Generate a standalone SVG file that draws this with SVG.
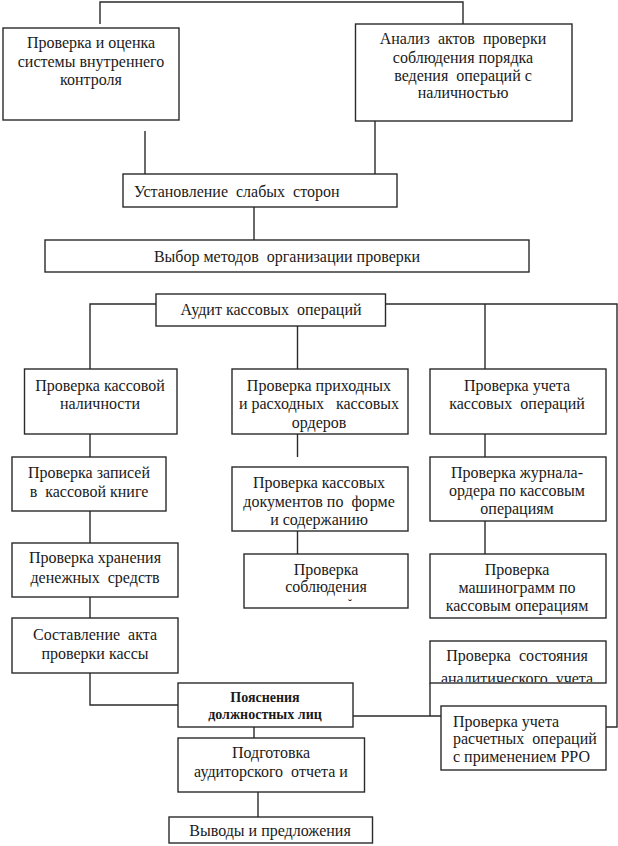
<svg xmlns="http://www.w3.org/2000/svg" width="618" height="846" viewBox="0 0 618 846">
<style>
.b{fill:#fff;stroke:#2a2a2a;stroke-width:1.4}
.c{fill:none;stroke:#2a2a2a;stroke-width:1.4}
text{font-family:"Liberation Serif","Times New Roman",serif;font-size:16px;fill:#1a1a1a;white-space:pre}
.m{text-anchor:middle}
.bd{font-weight:bold;font-size:14px}
</style>
<defs>
<clipPath id="clipJ"><rect x="430" y="641" width="176" height="41"/></clipPath>
<clipPath id="clipM"><rect x="244" y="554" width="164" height="53"/></clipPath>
</defs>
<rect width="618" height="846" fill="#fff"/>
<g id="connectors">
<polyline class="c" points="100,24 100,2 463,2 463,24"/>
<line class="c" x1="145" y1="131" x2="145" y2="174"/>
<line class="c" x1="375" y1="121" x2="375" y2="174"/>
<line class="c" x1="254" y1="207" x2="254" y2="240"/>
<polyline class="c" points="90,369 90,304 156,304"/>
<polyline class="c" points="385,304 617,304 617,727 606,727"/>
<line class="c" x1="297.5" y1="326" x2="297.5" y2="369"/>
<line class="c" x1="485" y1="304" x2="485" y2="369"/>
<line class="c" x1="90" y1="434" x2="90" y2="457"/>
<line class="c" x1="297.5" y1="434" x2="297.5" y2="457"/>
<line class="c" x1="485" y1="434" x2="485" y2="457"/>
<line class="c" x1="90" y1="511" x2="90" y2="543"/>
<line class="c" x1="297.5" y1="531" x2="297.5" y2="554"/>
<line class="c" x1="485" y1="521" x2="485" y2="554"/>
<line class="c" x1="90" y1="597" x2="90" y2="618"/>
<polyline class="c" points="90,673 90,705 178,705"/>
<line class="c" x1="353" y1="716" x2="441" y2="716"/>
<line class="c" x1="430" y1="683" x2="430" y2="716"/>
<line class="c" x1="254" y1="727" x2="254" y2="738"/>
<line class="c" x1="258" y1="792" x2="258" y2="817"/>
</g>
<g id="n1"><rect class="b" x="3" y="28" width="176" height="92"/>
<text class="m" x="91" y="48">Проверка и оценка</text>
<text class="m" x="91" y="67">системы внутреннего</text>
<text class="m" x="91" y="85">контроля</text></g>
<g id="n2"><rect class="b" x="355.5" y="24" width="216.5" height="97"/>
<text class="m" x="463" y="44">Анализ  актов  проверки</text>
<text class="m" x="463" y="63">соблюдения порядка</text>
<text class="m" x="463" y="81">ведения  операций с</text>
<text class="m" x="463" y="98">наличностью</text></g>
<g id="n3"><rect class="b" x="123" y="174" width="274" height="33"/>
<text x="134" y="197">Установление  слабых  сторон</text></g>
<g id="n4"><rect class="b" x="45" y="240" width="484" height="32"/>
<text class="m" x="287" y="262">Выбор методов  организации проверки</text></g>
<g id="n5"><rect class="b" x="156" y="294" width="229.5" height="32"/>
<text class="m" x="271" y="315">Аудит кассовых  операций</text></g>
<g id="n6"><rect class="b" x="24.5" y="369" width="152.5" height="65"/>
<text class="m" x="100" y="391">Проверка кассовой</text>
<text class="m" x="100" y="409">наличности</text></g>
<g id="n7"><rect class="b" x="232" y="369" width="176" height="65"/>
<text class="m" x="319" y="391">Проверка приходных</text>
<text class="m" x="319" y="409">и расходных   кассовых</text>
<text class="m" x="319" y="428">ордеров</text></g>
<g id="n8"><rect class="b" x="430" y="369" width="176" height="65"/>
<text class="m" x="517" y="391">Проверка учета</text>
<text class="m" x="517" y="409">кассовых  операций</text></g>
<g id="n9"><rect class="b" x="12" y="457" width="154" height="54"/>
<text class="m" x="89" y="478">Проверка записей</text>
<text class="m" x="89" y="497">в  кассовой книге</text></g>
<g id="n10"><rect class="b" x="232" y="467" width="176" height="64"/>
<text class="m" x="319" y="488">Проверка кассовых</text>
<text class="m" x="319" y="507">документов по  форме</text>
<text class="m" x="319" y="525">и содержанию</text></g>
<g id="n11"><rect class="b" x="430" y="457" width="176" height="64"/>
<text class="m" x="517" y="478">Проверка журнала-</text>
<text class="m" x="517" y="496">ордера по кассовым</text>
<text class="m" x="517" y="514">операциям</text></g>
<g id="n12"><rect class="b" x="12" y="543" width="166" height="54"/>
<text class="m" x="95" y="563">Проверка хранения</text>
<text class="m" x="95" y="583">денежных  средств</text></g>
<g id="n13"><rect class="b" x="244" y="554" width="164" height="54"/>
<text class="m" x="326" y="575">Проверка</text>
<text class="m" x="326" y="592">соблюдения</text>
<text class="m" x="350" y="608" clip-path="url(#clipM)" style="font-size:12px">˘</text></g>
<g id="n14"><rect class="b" x="430" y="554" width="176" height="64"/>
<text class="m" x="517" y="575">Проверка</text>
<text class="m" x="517" y="593">машинограмм по</text>
<text class="m" x="517" y="611">кассовым операциям</text></g>
<g id="n15"><rect class="b" x="12" y="618" width="166" height="55"/>
<text class="m" x="95" y="640">Составление  акта</text>
<text class="m" x="95" y="659">проверки кассы</text></g>
<g id="n16"><rect class="b" x="430" y="641" width="176" height="42"/>
<text class="m" x="517" y="661">Проверка  состояния</text>
<text class="m" x="517" y="684" clip-path="url(#clipJ)">аналитического  учета</text></g>
<g id="n17"><rect class="b" x="178" y="683" width="175" height="44"/>
<text class="m bd" x="265" y="702">Пояснения</text>
<text class="m bd" x="265" y="719">должностных лиц</text></g>
<g id="n18"><rect class="b" x="441" y="706" width="165" height="64"/>
<text x="453" y="727">Проверка учета</text>
<text x="453" y="744">расчетных  операций</text>
<text x="453" y="762">с применением РРО</text></g>
<g id="n19"><rect class="b" x="178" y="738" width="186.5" height="54"/>
<text class="m" x="271" y="758">Подготовка</text>
<text class="m" x="271" y="777">аудиторского  отчета и</text></g>
<g id="n20"><rect class="b" x="169" y="817" width="203.5" height="26"/>
<text class="m" x="270" y="836">Выводы и предложения</text></g>
</svg>
